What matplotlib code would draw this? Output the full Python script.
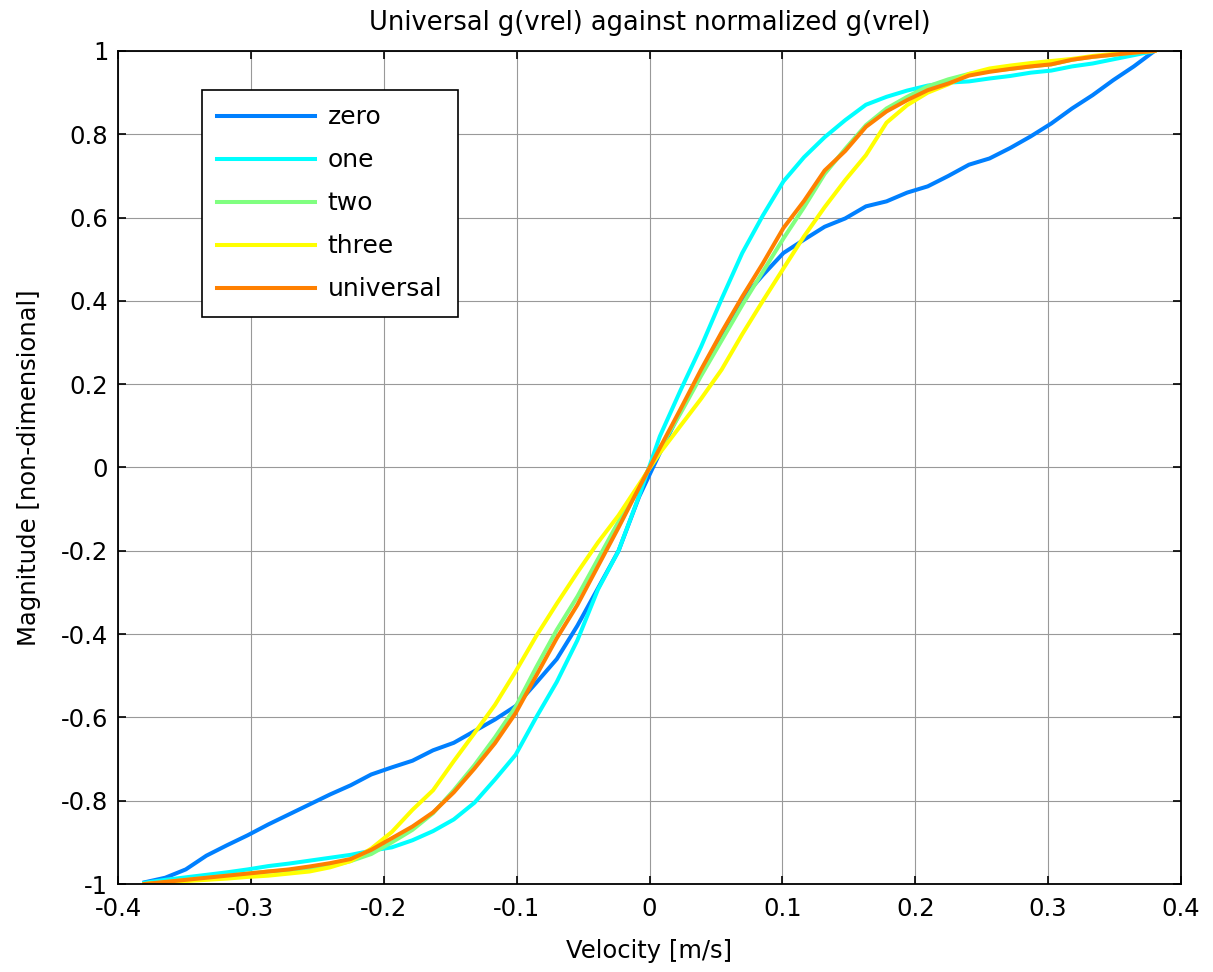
import matplotlib
matplotlib.use("Agg")
import matplotlib.pyplot as plt

plt.rcParams['font.family'] = ['DejaVu Sans']
plt.rcParams['axes.unicode_minus'] = False

velocity = [-0.3800, -0.3645, -0.3490, -0.3335, -0.3180, -0.3024, -0.2869, -0.2714, -0.2559, -0.2404,
            -0.2249, -0.2094, -0.1939, -0.1784, -0.1629, -0.1473, -0.1318, -0.1163, -0.1008, -0.0853,
            -0.0698, -0.0543, -0.0388, -0.0233, -0.0078, 0.0078, 0.0233, 0.0388, 0.0543, 0.0698,
            0.0853, 0.1008, 0.1163, 0.1318, 0.1473, 0.1629, 0.1784, 0.1939, 0.2094, 0.2249,
            0.2404, 0.2559, 0.2714, 0.2869, 0.3024, 0.3180, 0.3335, 0.3490, 0.3645, 0.3800]

zero = [-0.996, -0.985, -0.965, -0.932, -0.907, -0.883, -0.857, -0.833, -0.809, -0.785,
        -0.763, -0.737, -0.720, -0.704, -0.679, -0.661, -0.633, -0.605, -0.573, -0.517,
        -0.460, -0.380, -0.290, -0.200, -0.070, 0.035, 0.135, 0.230, 0.320, 0.405,
        0.462, 0.515, 0.547, 0.578, 0.598, 0.627, 0.639, 0.660, 0.675, 0.700,
        0.727, 0.742, 0.767, 0.795, 0.826, 0.862, 0.894, 0.930, 0.963, 1.000]

one = [-0.997, -0.990, -0.984, -0.978, -0.972, -0.965, -0.957, -0.951, -0.944, -0.937,
       -0.930, -0.920, -0.912, -0.895, -0.873, -0.845, -0.805, -0.749, -0.690, -0.600,
       -0.515, -0.415, -0.293, -0.200, -0.068, 0.075, 0.185, 0.290, 0.405, 0.515,
       0.605, 0.687, 0.745, 0.793, 0.834, 0.871, 0.890, 0.905, 0.917, 0.924,
       0.927, 0.934, 0.940, 0.948, 0.953, 0.963, 0.970, 0.980, 0.990, 1.000]

two = [-1.000, -0.995, -0.990, -0.985, -0.980, -0.975, -0.970, -0.967, -0.962, -0.957,
       -0.945, -0.928, -0.900, -0.870, -0.830, -0.775, -0.715, -0.648, -0.575, -0.480,
       -0.390, -0.310, -0.220, -0.130, -0.045, 0.045, 0.130, 0.220, 0.305, 0.390,
       0.470, 0.550, 0.625, 0.705, 0.765, 0.822, 0.862, 0.890, 0.915, 0.932,
       0.945, 0.952, 0.957, 0.963, 0.968, 0.979, 0.986, 0.991, 0.996, 1.000]

three = [-1.000, -0.997, -0.993, -0.990, -0.987, -0.983, -0.980, -0.975, -0.970, -0.960,
         -0.945, -0.915, -0.875, -0.822, -0.775, -0.705, -0.638, -0.570, -0.490, -0.405,
         -0.327, -0.252, -0.180, -0.115, -0.040, 0.035, 0.100, 0.165, 0.235, 0.320,
         0.400, 0.478, 0.555, 0.625, 0.690, 0.750, 0.828, 0.870, 0.900, 0.920,
         0.945, 0.958, 0.965, 0.971, 0.976, 0.981, 0.988, 0.993, 0.997, 1.000]

universal = [-1.000, -0.995, -0.990, -0.985, -0.980, -0.975, -0.970, -0.965, -0.958, -0.950,
             -0.940, -0.918, -0.890, -0.862, -0.828, -0.780, -0.723, -0.662, -0.590, -0.500,
             -0.410, -0.330, -0.237, -0.144, -0.048, 0.047, 0.140, 0.235, 0.325, 0.410,
             0.490, 0.575, 0.640, 0.713, 0.760, 0.818, 0.855, 0.882, 0.906, 0.922,
             0.941, 0.950, 0.957, 0.963, 0.968, 0.979, 0.986, 0.991, 0.996, 1.000]

series_names = ["zero", "one", "two", "three", "universal"]
series_values = [zero, one, two, three, universal]
series_colors = ["#0080ff", "#00ffff", "#80ff80", "#ffff00", "#ff8000"]

xticks = [-0.4, -0.3, -0.2, -0.1, 0, 0.1, 0.2, 0.3, 0.4]
xtick_labels = ["-0.4", "-0.3", "-0.2", "-0.1", "0", "0.1", "0.2", "0.3", "0.4"]
yticks = [-1, -0.8, -0.6, -0.4, -0.2, 0, 0.2, 0.4, 0.6, 0.8, 1]
ytick_labels = ["-1", "-0.8", "-0.6", "-0.4", "-0.2", "0", "0.2", "0.4", "0.6", "0.8", "1"]

W, H = 1213, 972
fig = plt.figure(figsize=(W / 100, H / 100), dpi=100)
ax_left, ax_right, ax_top, ax_bottom = 118, 1181, 51, 884
ax = fig.add_axes([ax_left / W, 1 - ax_bottom / H, (ax_right - ax_left) / W, (ax_bottom - ax_top) / H])

for name, vals, col in zip(series_names, series_values, series_colors):
    ax.plot(velocity, vals, color=col, lw=2.9, label=name)

ax.set_xlim(-0.4, 0.4)
ax.set_ylim(-1, 1)
ax.set_xticks(xticks)
ax.set_xticklabels(xtick_labels)
ax.set_yticks(yticks)
ax.set_yticklabels(ytick_labels)
ax.grid(True, color='0.6', lw=0.8, ls='-')
ax.set_axisbelow(True)
ax.tick_params(direction='in', length=6, width=1.2, top=True, right=True,
               labelsize=17.5, colors='black')
ax.tick_params(axis='x', pad=9.5)
ax.tick_params(axis='y', pad=7)
for sp in ax.spines.values():
    sp.set_linewidth(1.3)
    sp.set_color('black')

ax.set_title("Universal g(vrel) against normalized g(vrel)", fontsize=18.5, pad=15)
ax.set_xlabel("Velocity [m/s]", fontsize=17.5)
ax.set_ylabel("Magnitude [non-dimensional]", fontsize=17.5)
ax.xaxis.set_label_coords(0.5, -0.066)
ax.yaxis.set_label_coords(-0.072, 0.5)

leg = ax.legend(loc='upper left', bbox_to_anchor=(0.0787, 0.9532), borderaxespad=0,
                fontsize=18, handlelength=3.92, handletextpad=0.5, labelspacing=0.76,
                borderpad=0.62, fancybox=False, framealpha=1, edgecolor='black')
leg.get_frame().set_linewidth(1.2)
for lh in leg.get_lines():
    lh.set_linewidth(2.9)

fig.savefig("out.png", dpi=100)
